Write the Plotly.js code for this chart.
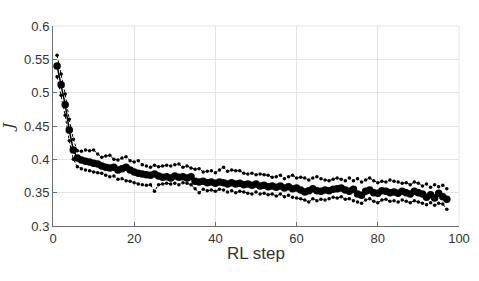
<!DOCTYPE html>
<html><head><meta charset="utf-8">
<script src="https://cdn.plot.ly/plotly-3.0.1.min.js"></script>
<style>html,body{margin:0;padding:0;background:#fff;}#chart{width:479px;height:281px;}</style>
</head><body><div id="chart"></div>
<script>
var steps = [];
for (var i = 1; i <= 97; i++) steps.push(i);

var meanJ = [0.540,0.512,0.482,0.444,0.414,0.402,0.399,0.397,0.396,0.394,
0.393,0.390,0.388,0.387,0.388,0.384,0.386,0.388,0.384,0.381,
0.379,0.378,0.377,0.376,0.378,0.375,0.373,0.374,0.372,0.375,
0.373,0.374,0.372,0.374,0.367,0.366,0.367,0.365,0.366,0.364,
0.366,0.365,0.363,0.365,0.363,0.364,0.362,0.363,0.361,0.363,
0.360,0.361,0.359,0.360,0.358,0.360,0.357,0.359,0.356,0.357,
0.354,0.351,0.353,0.356,0.353,0.352,0.354,0.353,0.355,0.356,
0.357,0.354,0.352,0.355,0.348,0.346,0.352,0.354,0.350,0.349,
0.353,0.352,0.350,0.351,0.349,0.352,0.350,0.348,0.352,0.350,
0.348,0.343,0.347,0.342,0.349,0.344,0.340];

var upperJ = [0.556,0.528,0.498,0.460,0.430,0.413,0.412,0.414,0.413,0.414,
0.408,0.403,0.405,0.406,0.400,0.399,0.402,0.404,0.398,0.396,
0.398,0.392,0.390,0.388,0.391,0.389,0.390,0.391,0.390,0.392,
0.393,0.388,0.390,0.387,0.385,0.386,0.381,0.382,0.383,0.380,
0.384,0.388,0.382,0.384,0.383,0.383,0.379,0.378,0.379,0.377,
0.378,0.377,0.376,0.373,0.374,0.376,0.371,0.374,0.376,0.372,
0.373,0.372,0.369,0.372,0.374,0.371,0.369,0.368,0.370,0.372,
0.370,0.368,0.372,0.368,0.371,0.366,0.369,0.372,0.368,0.365,
0.367,0.366,0.369,0.367,0.366,0.364,0.365,0.362,0.366,0.364,
0.360,0.363,0.358,0.362,0.359,0.361,0.356];

var lowerJ = [0.524,0.496,0.466,0.428,0.400,0.389,0.386,0.384,0.383,0.381,
0.380,0.379,0.376,0.374,0.375,0.370,0.371,0.368,0.367,0.365,
0.363,0.362,0.361,0.362,0.352,0.362,0.363,0.364,0.363,0.364,
0.362,0.365,0.364,0.362,0.356,0.350,0.355,0.353,0.354,0.352,
0.355,0.354,0.351,0.353,0.350,0.352,0.351,0.349,0.348,0.351,
0.348,0.349,0.347,0.348,0.345,0.348,0.344,0.346,0.343,0.342,
0.341,0.339,0.336,0.341,0.338,0.340,0.339,0.341,0.343,0.342,
0.344,0.340,0.341,0.338,0.336,0.334,0.339,0.341,0.337,0.335,
0.339,0.340,0.337,0.338,0.336,0.339,0.337,0.335,0.338,0.336,
0.334,0.332,0.335,0.331,0.334,0.333,0.325];

var xTicks = [0,20,40,60,80,100];
var yTicks = [0.3,0.35,0.4,0.45,0.5,0.55,0.6];
var yTickText = ['0.3','0.35','0.4','0.45','0.5','0.55','0.6'];

var band = {mode:'lines+markers', line:{color:'#000', width:1, dash:'3px,2px'}, marker:{color:'#000', size:3.5}, showlegend:false, hoverinfo:'skip'};
var traces = [
  Object.assign({x:steps, y:upperJ, type:'scatter'}, band),
  Object.assign({x:steps, y:lowerJ, type:'scatter'}, band),
  {x:steps, y:meanJ, type:'scatter', mode:'lines+markers', line:{color:'#000', width:1.5}, marker:{color:'#000', size:7.5}, showlegend:false}
];

var axisCommon = {showline:true, linecolor:'#6e6e6e', linewidth:1, ticks:'inside', ticklen:4, tickcolor:'#6e6e6e',
  showgrid:true, gridcolor:'#e4e4e4', gridwidth:1, zeroline:false, tickfont:{family:'Liberation Sans, Arial, sans-serif', size:13, color:'#333'}};

var layout = {
  width:479, height:281,
  margin:{l:53, r:20, t:26, b:55},
  paper_bgcolor:'#fff', plot_bgcolor:'#fff',
  xaxis:Object.assign({}, axisCommon, {range:[0,100], tickvals:xTicks, ticktext:xTicks.map(String),
    title:{text:'RL step', font:{family:'Liberation Sans, Arial, sans-serif', size:17, color:'#333'}, standoff:2}}),
  yaxis:Object.assign({}, axisCommon, {range:[0.3,0.6], tickvals:yTicks, ticktext:yTickText,
    title:{text:'<i>J</i>', font:{family:'DejaVu Serif, serif', size:15, color:'#333'}, standoff:8}}),
  shapes:[
    {type:'line', xref:'paper', yref:'paper', x0:0, x1:1, y0:1, y1:1, line:{color:'#e4e4e4', width:1}},
    {type:'line', xref:'paper', yref:'paper', x0:1, x1:1, y0:0, y1:1, line:{color:'#e4e4e4', width:1}}
  ]
};

Plotly.newPlot('chart', traces, layout, {displayModeBar:false, staticPlot:true});
</script></body></html>
